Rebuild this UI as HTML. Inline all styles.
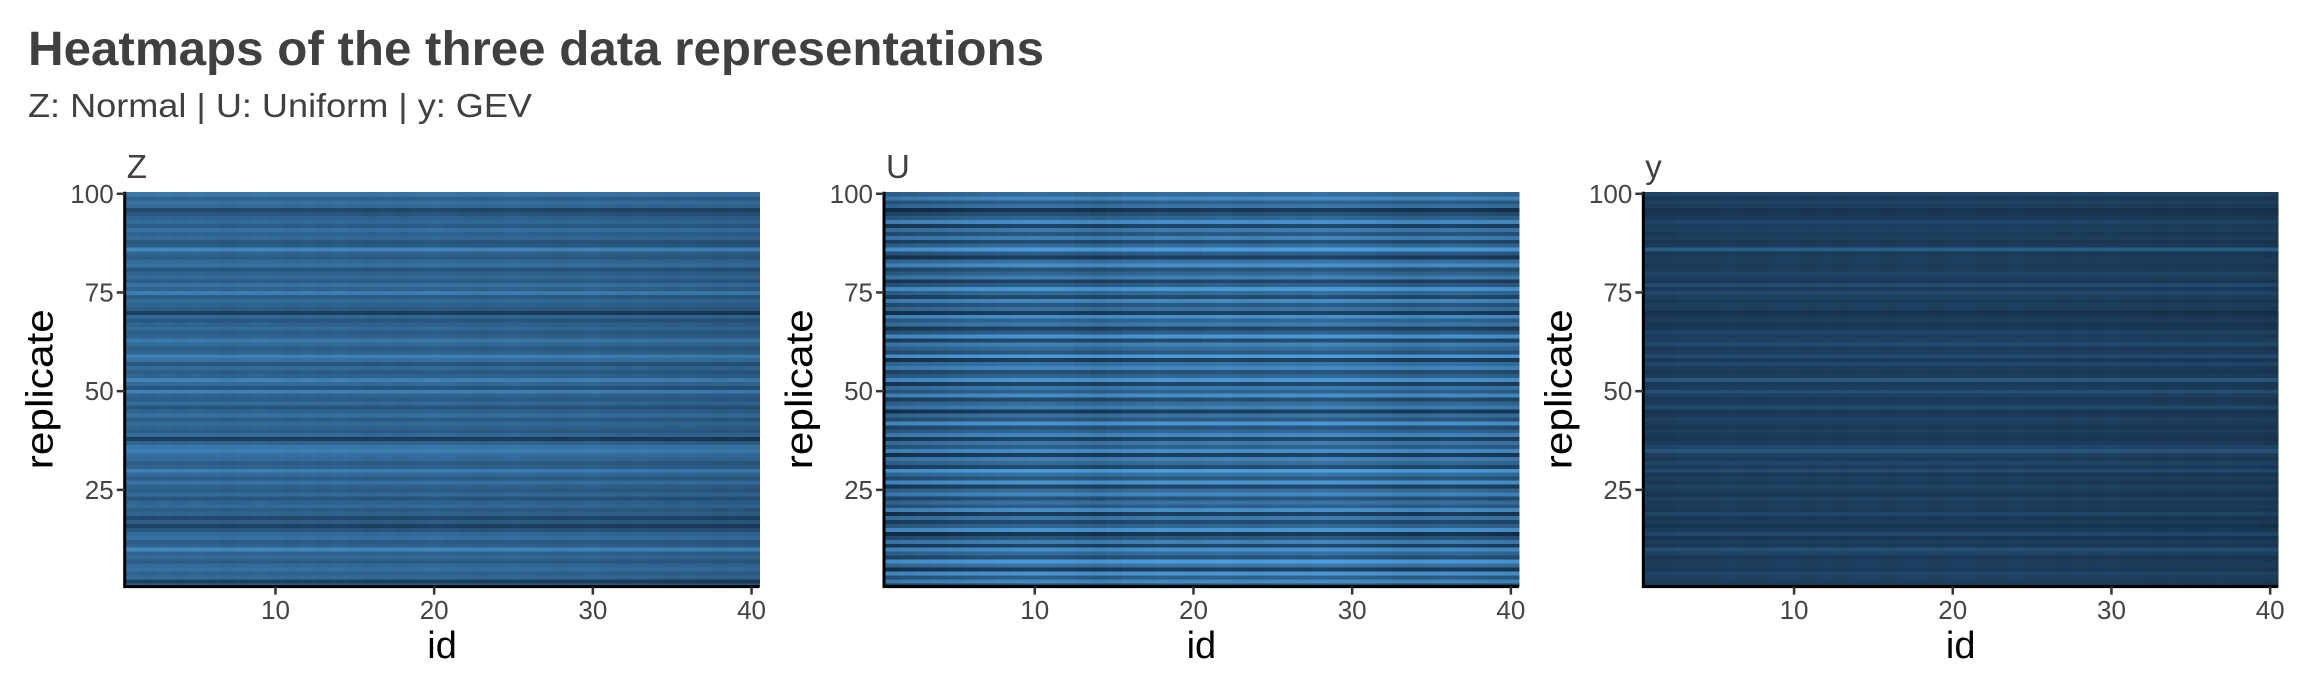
<!DOCTYPE html>
<html><head><meta charset="utf-8"><style>
html,body{margin:0;padding:0;background:#fff;}
svg{display:block;font-family:"Liberation Sans",sans-serif;}
</style></head><body>
<svg id="chart" width="2304" height="691" viewBox="0 0 2304 691" xmlns="http://www.w3.org/2000/svg">
<text x="28" y="65" font-size="48" font-weight="bold" fill="#404040" textLength="1016" lengthAdjust="spacingAndGlyphs">Heatmaps of the three data representations</text>
<text x="28" y="117" font-size="33" fill="#404040" textLength="504" lengthAdjust="spacingAndGlyphs">Z: Normal | U: Uniform | y: GEV</text>
<g id="panels"></g>
</svg>
<script>
const replicates = 100;
const ids = 40;
const xTicks = [10, 20, 30, 40];
const yTicks = [25, 50, 75, 100];
const panelNames = ["Z", "U", "y"];
const rowsZ = [0.35,0.15,0.45,0.40,0.50,0.45,0.35,0.45,0.40,0.65,0.40,0.35,0.50,0.45,0.30,0.15,0.35,0.20,0.40,0.35,0.45,0.40,0.30,0.45,0.35,0.40,0.50,0.35,0.45,0.60,0.40,0.35,0.45,0.50,0.60,0.55,0.40,0.12,0.45,0.35,0.40,0.45,0.35,0.50,0.40,0.30,0.45,0.35,0.40,0.62,0.30,0.45,0.62,0.40,0.35,0.45,0.30,0.50,0.62,0.40,0.35,0.45,0.55,0.40,0.35,0.45,0.40,0.30,0.45,0.12,0.35,0.40,0.45,0.35,0.60,0.40,0.50,0.35,0.45,0.40,0.30,0.50,0.45,0.35,0.40,0.65,0.35,0.30,0.45,0.40,0.50,0.35,0.45,0.40,0.30,0.20,0.45,0.50,0.40,0.55];
const rowsU = [0.20,0.65,0.35,0.75,0.10,0.50,0.80,0.25,0.45,0.70,0.15,0.60,0.30,0.05,0.75,0.40,0.20,0.55,0.10,0.70,0.35,0.50,0.25,0.65,0.45,0.15,0.75,0.30,0.50,0.80,0.20,0.45,0.60,0.10,0.70,0.35,0.55,0.15,0.65,0.40,0.25,0.75,0.30,0.50,0.10,0.60,0.45,0.20,0.70,0.35,0.55,0.15,0.75,0.40,0.25,0.65,0.50,0.10,0.80,0.30,0.45,0.60,0.20,0.75,0.35,0.15,0.55,0.40,0.70,0.10,0.50,0.30,0.65,0.20,0.45,0.75,0.35,0.15,0.60,0.40,0.25,0.70,0.50,0.10,0.35,0.80,0.45,0.20,0.60,0.30,0.55,0.15,0.70,0.40,0.25,0.05,0.50,0.35,0.65,0.45];
const rowsY = [0.08,0.12,0.15,0.18,0.10,0.14,0.12,0.09,0.16,0.25,0.10,0.13,0.08,0.20,0.11,0.06,0.12,0.09,0.18,0.10,0.13,0.11,0.15,0.08,0.12,0.16,0.10,0.14,0.09,0.22,0.12,0.18,0.10,0.15,0.30,0.20,0.12,0.08,0.10,0.14,0.09,0.12,0.16,0.10,0.08,0.22,0.12,0.10,0.14,0.26,0.12,0.10,0.32,0.14,0.09,0.12,0.20,0.10,0.24,0.13,0.10,0.22,0.15,0.12,0.18,0.10,0.08,0.12,0.10,0.05,0.12,0.14,0.10,0.15,0.20,0.12,0.22,0.10,0.14,0.18,0.12,0.10,0.14,0.12,0.10,0.34,0.12,0.08,0.14,0.10,0.15,0.12,0.18,0.10,0.08,0.06,0.12,0.16,0.10,0.18];
const colsZ = [0.03,0.02,0.03,0.02,0.03,0.02,0.01,0.02,0.03,0.02,0.01,0.02,0.01,0.02,0.01,0.00,0.01,0.00,0.01,0.02,0.01,0.00,-0.01,0.00,0.01,0.00,-0.01,-0.02,-0.01,0.00,-0.02,-0.03,-0.02,-0.03,-0.04,-0.03,-0.04,-0.05,-0.04,-0.05];
const colsU = [-0.08,-0.06,-0.05,-0.04,-0.02,0.00,0.01,0.02,0.03,0.04,0.03,0.02,0.00,-0.02,0.00,0.02,0.03,0.05,0.04,0.03,0.05,0.06,0.04,0.03,0.05,0.06,0.05,0.07,0.06,0.05,0.04,0.02,0.00,-0.01,0.00,0.02,0.01,0.00,-0.02,-0.03];
const colsY = [0.00,0.00,0.01,0.01,0.01,0.02,0.01,0.01,0.02,0.02,0.01,0.02,0.01,0.02,0.02,0.01,0.02,0.02,0.01,0.02,0.02,0.01,0.01,0.02,0.01,0.01,0.00,0.01,0.00,0.01,0.00,0.00,-0.01,0.00,-0.01,-0.01,0.00,-0.01,-0.01,-0.02];
const panelRows = [rowsZ, rowsU, rowsY];
const panelCols = [colsZ, colsU, colsY];

const NS = "http://www.w3.org/2000/svg";
const panelLeft = [124.7, 884.0, 1643.3];
const plotW = 634.8, plotTop = 191.8, plotH = 394.8;
const lo = [0x13,0x2B,0x43], hi = [0x56,0xB1,0xF7];
function color(v){v=Math.max(0,Math.min(1,v));return "rgb("+lo.map((c,i)=>Math.round(c+(hi[i]-c)*v)).join(",")+")";}
function mk(tag, attrs, parent){const e=document.createElementNS(NS,tag);for(const k in attrs)e.setAttribute(k,attrs[k]);parent.appendChild(e);return e;}
const root = document.getElementById("panels");
panelNames.forEach((name, p) => {
  const L = panelLeft[p];
  const xs = v => L + (v - 0.5) * plotW / ids;
  const ys = v => plotTop + (100.5 - v) * plotH / replicates;
  const g = mk("g", {}, root);
  
  
  const cells = mk("g", {"shape-rendering":"crispEdges"}, g);
  
  
  const rows = panelRows[p], cols = panelCols[p];
  for (let r = 0; r < replicates; r++) {
    for (let c = 0; c < ids; c++) {
      const rect = mk("rect", {x: xs(c + 0.5), y: ys(r + 1.5), width: plotW/ids + 0.6, height: plotH/replicates + 0.6, fill: color(rows[r] + cols[c])}, cells);
      
      
    }
  }
  const lab = mk("text", {x: L + 2, y: 178, "font-size": 33, fill: "#404040"}, g);
  lab.textContent = name;
  
  
  const ax = mk("path", {d: `M${L} ${plotTop} V${plotTop+plotH} H${L+plotW}`, stroke: "#000", "stroke-width": 3, fill: "none"}, g);
  
  
  yTicks.forEach(t => {
    const tk = mk("line", {x1: L - 8, x2: L, y1: ys(t), y2: ys(t), stroke: "#333", "stroke-width": 2.5}, g);
    
    
    const tl = mk("text", {x: L - 11, y: ys(t) + 9, "font-size": 26, fill: "#444", "text-anchor": "end"}, g);
    tl.textContent = t;
    
    
  });
  xTicks.forEach(t => {
    const tk = mk("line", {x1: xs(t), x2: xs(t), y1: plotTop + plotH, y2: plotTop + plotH + 8, stroke: "#333", "stroke-width": 2.5}, g);
    
    
    const tl = mk("text", {x: xs(t), y: 619, "font-size": 26, fill: "#444", "text-anchor": "middle"}, g);
    tl.textContent = t;
    
    
  });
  const xt = mk("text", {x: L + plotW/2, y: 658, "font-size": 38, fill: "#000", "text-anchor": "middle"}, g);
  xt.textContent = "id";
  
  
  const yt = mk("text", {x: 0, y: 0, "font-size": 38, fill: "#000", "text-anchor": "middle", textLength: 160, lengthAdjust: "spacingAndGlyphs", transform: `translate(${L-72},${plotTop+plotH/2}) rotate(-90)`}, g);
  yt.textContent = "replicate";
  
  
});
</script>
</body></html>
